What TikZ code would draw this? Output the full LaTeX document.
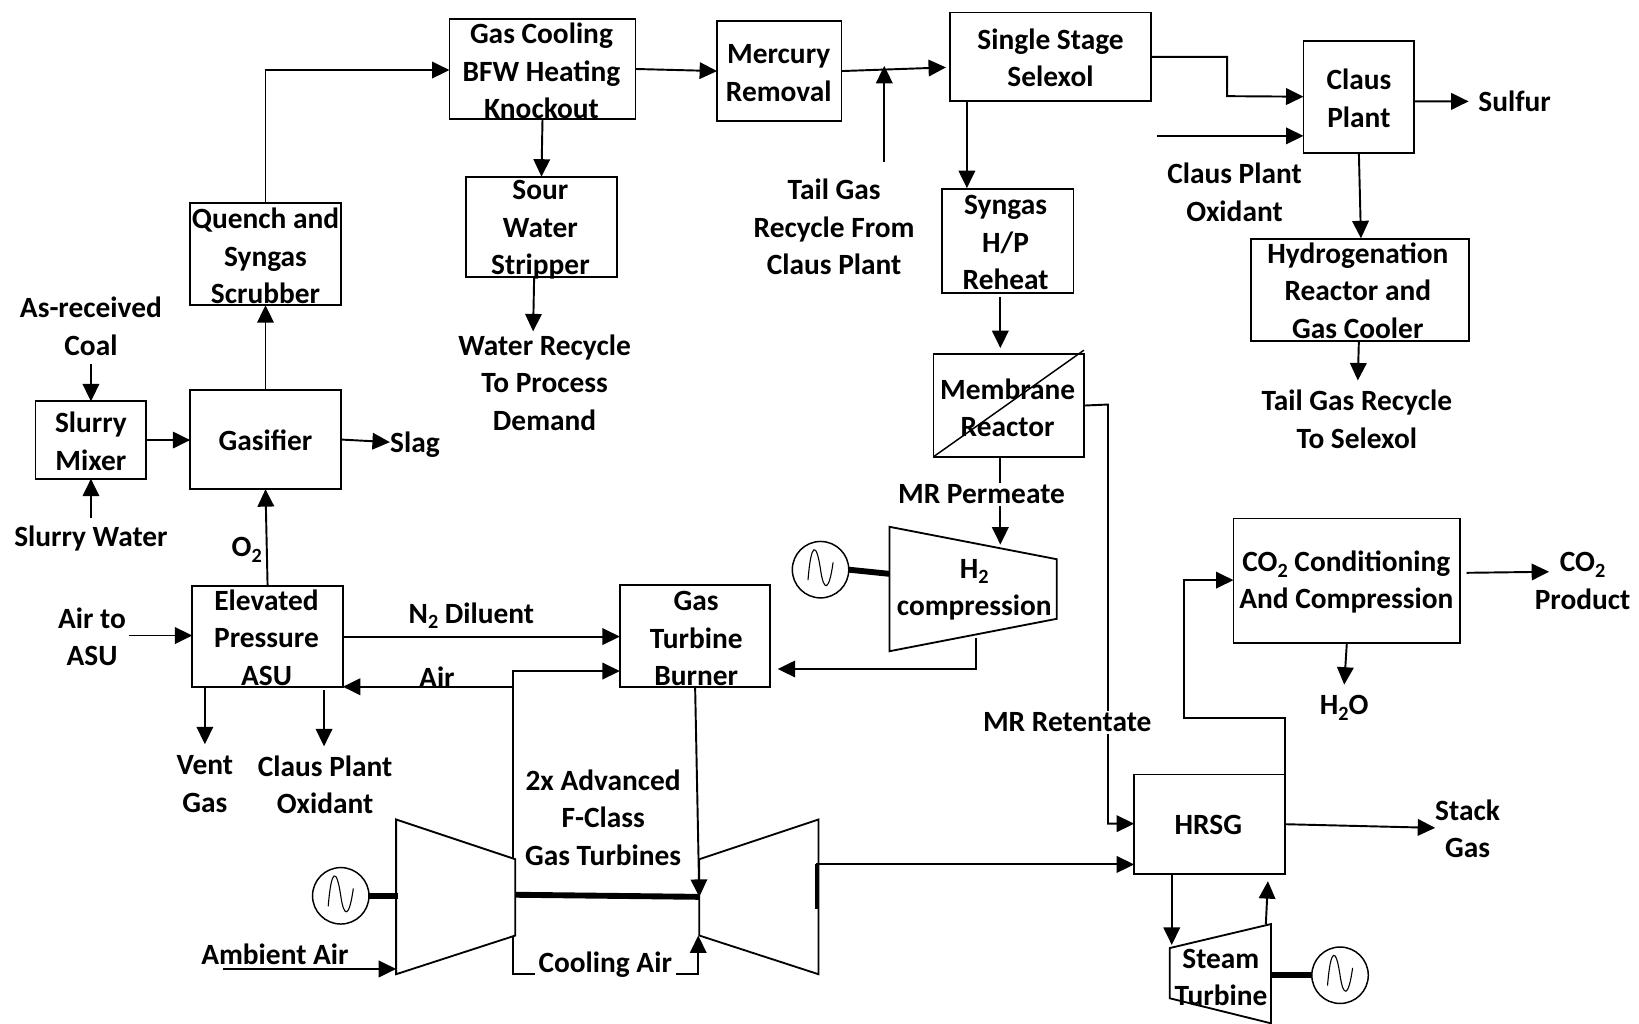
\documentclass[tikz,border=0pt]{standalone}
\usepackage{fontspec}
\setmainfont{Carlito}
\usetikzlibrary{arrows.meta,calc}
\newcommand\subt[1]{{\fontsize{11}{11}\selectfont\raisebox{-3pt}{#1}}}
\newcommand\bx[5]{\node[boxs,minimum width={(#4-#2)*0.02cm},minimum height={(#5-#3)*0.02cm}] (#1) at ({(#2+#4)/2},{(#3+#5)/2}) {};}
\tikzset{
  boxs/.style={draw=black,line width=1pt,inner sep=0pt,outer sep=0pt,fill=white},
  txt/.style={font=\bfseries\fontsize{16}{20.4}\selectfont,align=center,inner sep=0pt,text=black},
  lbl/.style={txt,fill=white,inner xsep=2pt,inner ysep=1pt},
  conn/.style={line width=1.05pt,-{Triangle[length=9.5pt,width=9pt]}},
  machine/.style={draw=black,line width=1pt,line join=miter},
  shaft/.style={line width=3.2pt},
  gens/.style={draw=black,line width=0.8pt,circle,minimum size=54*0.02cm,inner sep=0pt,outer sep=0pt},
  sine/.style={line width=0.6pt}
}
\begin{document}
\begin{tikzpicture}[x=0.02cm,y=-0.02cm]
\useasboundingbox (0,0) rectangle (1568,979);
% boxes
\bx{slurry}{34}{384}{140}{458}
\bx{gasifier}{182}{373}{326}{468}
\bx{quench}{182}{194}{326}{292}
\bx{asu}{184}{561}{328}{657}
\bx{burner}{593}{560}{737}{657}
\bx{gascool}{430}{18}{608}{114}
\bx{mercury}{686}{20}{805}{116}
\bx{selexol}{909}{12}{1101}{97}
\bx{claus}{1247}{39}{1353}{146}
\bx{sour}{446}{169}{590}{265}
\bx{syngas}{901}{181}{1027}{280}
\bx{hydro}{1197}{229}{1405}{326}
\bx{membrane}{893}{339}{1037}{437}
\bx{cotwo}{1180}{496}{1397}{615}
\bx{hrsg}{1085}{741}{1229}{836}
% machines
\coordinate (compTL) at (379,784);
\coordinate (compTR) at (493,822);
\coordinate (compBR) at (493,895);
\coordinate (compBL) at (379,932);
\coordinate (turbTL) at (669,822);
\coordinate (turbTR) at (783,784);
\coordinate (turbBR) at (783,932);
\coordinate (turbBL) at (669,895);
\coordinate (htwoTL) at (851,504);
\coordinate (htwoTR) at (1011,535);
\coordinate (htwoBR) at (1011,592);
\coordinate (htwoBL) at (851,623);
\coordinate (stTL) at (1119,907);
\coordinate (stTR) at (1216,884);
\coordinate (stBR) at (1216,979);
\coordinate (stBL) at (1119,955);
\draw[machine] (compTL)--(compTR)--(compBR)--(compBL)--cycle;
\draw[machine] (turbTL)--(turbTR)--(turbBR)--(turbBL)--cycle;
\draw[machine] (htwoTL)--(htwoTR)--(htwoBR)--(htwoBL)--cycle;
\draw[machine] (stTL)--(stTR)--(stBR)--(stBL)--cycle;
% generators
\node[gens] (genA) at (326,857) {};
\node[gens] (genB) at (785,545) {};
\node[gens] (genC) at (1282,933) {};
\foreach \g in {genA,genB,genC}{
  \begin{scope}[shift={(\g.center)}]
  \draw[sine] (-12,10) .. controls (-9,-27) and (-4,-27) .. (0,0) .. controls (3,21) and (8,22) .. (12,-7);
  \end{scope}
}
\draw[shaft] (genA.east) -- (381,857);
\draw[shaft] (genB.east) -- (851,549);
\draw[shaft] (stTR |- genC.west) -- (genC.west);
\coordinate (shaftL) at (493,856);
\coordinate (shaftR) at (669,858);
\draw[shaft] (shaftL) -- (shaftR);
\draw[line width=1.7pt] (781,827) -- (781,870);
% free ends
\coordinate (coalIn) at (87,348);
\coordinate (waterIn) at (87,496);
\coordinate (slagOut) at (373,423);
\coordinate (airIn) at (123,608);
\coordinate (ventOut) at (196,712);
\coordinate (clausOut) at (310,714);
\coordinate (ambIn) at (213,927);
\coordinate (tailIn) at (846,155);
\coordinate (tailTip) at (846,63);
\coordinate (waterOut) at (510,317);
\coordinate (oxIn) at (1107,130);
\coordinate (sulfurOut) at (1405,97);
\coordinate (tailOut) at (1299,364);
\coordinate (coOut) at (1482,547);
\coordinate (hoOut) at (1286,655);
\coordinate (stackOut) at (1373,792);
\coordinate (airSplit) at (491,657);
% connectors
\draw[conn] (coalIn) -- (slurry.north);
\draw[conn] (waterIn) -- (slurry.south);
\draw[conn] (slurry.east) -- (gasifier.west |- slurry.east);
\draw[conn] (gasifier.east) -- (slagOut);
\draw[conn] (gasifier.north) -- (quench.south);
\draw[conn] (quench.north) -- (254,67) -- (gascool.west |- 254,67);
\draw[conn] (asu.north) -- (gasifier.south);
\draw[conn] (airIn) -- (asu.west |- airIn);
\draw[conn] (asu.east) -- (burner.west |- asu.east);
\draw[conn] (airSplit) -- (asu.south east);
\draw[conn] (compTR -| airSplit) -- (491,642) -- (burner.west |- 491,642);
\draw[conn] ([shift={(-60,0)}]asu.south) -- (ventOut);
\draw[conn] ([shift={(54,3)}]asu.south) -- (clausOut);
\draw[conn] (burner.south) -- (shaftR);
\draw[conn] (compBR -| airSplit) -- (491,932) -- (668,932) -- (turbBL -| 668,932);
\draw[conn] (ambIn) -- (379,927);
\draw[conn] (781,827) -- (hrsg.west |- 781,827);
\draw[conn] (934,610) -- (934,640) -- (744,640);
\draw[conn] ([shift={(-8,0)}]membrane.south) -- (957,521);
\draw[conn] ([shift={(-7,4)}]syngas.south) -- (957,333);
\draw[line width=0.8pt] (membrane.south west) -- (1037,335);
\draw[conn] (membrane.east) -- (1060,387) -- (1060,788) -- (hrsg.west |- 1060,788);
\draw[conn] (1229,741) -- (1229,687) -- (1133,687) -- (1133,555) -- (cotwo.west |- 1133,555);
\draw[conn] ([shift={(6,-7.5)}]cotwo.east) -- (coOut);
\draw[conn] (cotwo.south) -- (hoOut);
\draw[conn] (hrsg.east) -- (stackOut);
\draw[conn] ([shift={(-36,0)}]hrsg.south) -- (1121,904);
\draw[conn] (1211,884) -- ([shift={(56,7)}]hrsg.south);
\draw[conn] (gascool.east) -- (mercury.west);
\draw[conn] (mercury.east) -- ([shift={(-4,10)}]selexol.west);
\draw[conn] (tailIn) -- (tailTip);
\draw[conn] (gascool.south) -- (sour.north);
\draw[conn] ([shift={(-7,0)}]sour.south) -- (waterOut);
\draw[conn] ([shift={(-80,0)}]selexol.south) -- (925,180);
\draw[conn] (selexol.east) -- (1174,54.5) -- (1174,92) -- (claus.west);
\draw[conn] (oxIn) -- (claus.west |- oxIn);
\draw[conn] ([shift={(0,4.5)}]claus.east) -- (sulfurOut);
\draw[conn] (claus.south) -- (1302,228);
\draw[conn] ([shift={(-1,0)}]hydro.south) -- (tailOut);
% texts
\node[txt] (t1) at (87,312) {As-received\\Coal};
\node[txt] (t2) at (87,422) {Slurry\\Mixer};
\node[txt] (t3) at (254,421) {Gasifier};
\node[txt] (t4) at (397,425) {Slag};
\node[txt] (t5) at (87,515) {Slurry Water};
\node[txt] (t6) at (236,526) {O\subt{2}};
\node[txt] (t7) at (88,609) {Air to\\ASU};
\node[txt] (t8) at (255,610) {Elevated\\Pressure\\ASU};
\node[txt] (t9) at (451,589) {N\subt{2} Diluent};
\node[txt] (t10) at (418,648) {Air};
\node[txt] (t11) at (666,611) {Gas\\Turbine\\Burner};
\node[txt] (t12) at (254,245) {Quench and\\Syngas\\Scrubber};
\node[txt] (t13) at (518,68) {Gas Cooling\\BFW Heating\\Knockout};
\node[txt] (t14) at (745,70) {Mercury\\Removal};
\node[txt] (t15) at (1005,55.5) {Single Stage\\Selexol};
\node[txt] (t16) at (1300,94) {Claus\\Plant};
\node[txt] (t17) at (1449,97) {Sulfur};
\node[txt] (t18) at (1181,184) {Claus Plant\\Oxidant};
\node[txt] (t19) at (517,220) {Sour\\Water\\Stripper};
\node[txt] (t20) at (521,366) {Water Recycle\\To Process\\Demand};
\node[txt] (t21) at (798,217) {Tail Gas\\Recycle From\\Claus Plant};
\node[txt] (t22) at (962,232) {Syngas\\H/P\\Reheat};
\node[txt] (t23) at (1299,278) {Hydrogenation\\Reactor and\\Gas Cooler};
\node[txt] (t24) at (1298,401) {Tail Gas Recycle\\To Selexol};
\node[txt] (t25) at (964,390) {Membrane\\Reactor};
\node[lbl] (t26) at (939,473) {MR Permeate};
\node[txt] (t27) at (932,564) {H\subt{2}\\compression};
\node[txt] (t28) at (1288,557) {CO\subt{2} Conditioning\\And Compression};
\node[txt] (t29) at (1514,556) {CO\subt{2}\\Product};
\node[txt] (t30) at (1286,677) {H\subt{2}O};
\node[lbl] (t31) at (1021,691) {MR Retentate};
\node[txt] (t32) at (1156,789) {HRSG};
\node[txt] (t33) at (1404,793) {Stack\\Gas};
\node[txt] (t34) at (1168,935) {Steam\\Turbine};
\node[txt] (t35) at (196,750) {Vent\\Gas};
\node[txt] (t36) at (311,751) {Claus Plant\\Oxidant};
\node[txt] (t37) at (577,782) {2x Advanced\\F-Class\\Gas Turbines};
\node[txt] (t38) at (263,913) {Ambient Air};
\node[lbl] (t39) at (579,923) {Cooling Air};
\end{tikzpicture}
\end{document}
